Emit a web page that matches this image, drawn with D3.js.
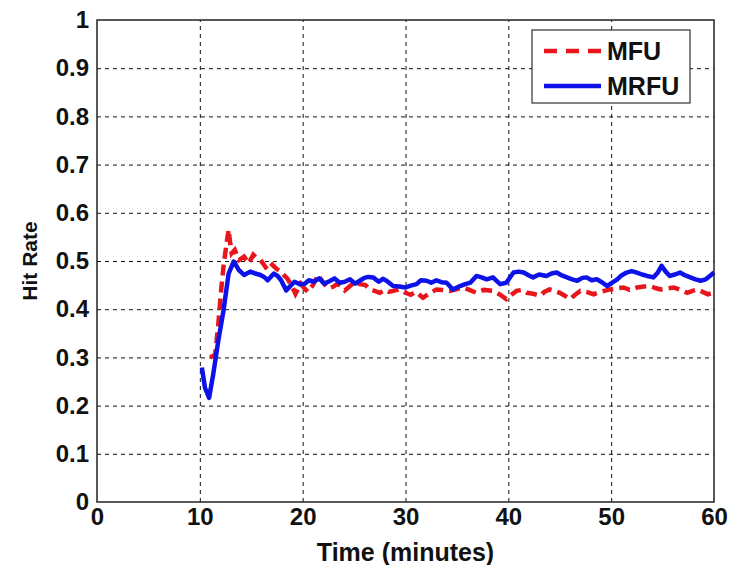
<!DOCTYPE html>
<html>
<head>
<meta charset="utf-8">
<script src="https://cdn.jsdelivr.net/npm/d3@7"></script>
<style>
  body { margin: 0; background: #fff; }
  svg { display: block; font-family: "Liberation Sans", Arial, sans-serif; font-weight: bold; }
</style>
</head>
<body>
<div id="chart"></div>
<script>
// tick values
const xTicks = [0, 10, 20, 30, 40, 50, 60];
const yTicks = [0, 0.1, 0.2, 0.3, 0.4, 0.5, 0.6, 0.7, 0.8, 0.9, 1];

// MFU series (red dashed)
const mfuTime = [11.0, 11.3, 11.5, 11.8, 12.1, 12.3, 12.6, 12.8, 12.95, 13.1, 13.4, 13.8, 14.3, 14.75, 15.2, 15.6, 15.9, 16.3, 16.6, 17.05,
  17.5, 17.9, 18.2, 18.5, 18.9, 19.3, 19.8, 20.1, 20.5, 21.0, 21.5, 22.0, 22.5, 23.0, 23.4, 23.8, 24.1, 24.6, 25.1, 25.55,
  26.1, 26.6, 27.0, 27.5, 28.0, 28.4, 28.8, 29.4, 30.0, 30.5, 31.0, 31.7, 32.3, 33.0, 33.6, 34.3, 35.0, 35.6, 36.2, 36.9,
  37.6, 38.5, 39.2, 39.8, 40.3, 40.8, 41.3, 41.8, 42.4, 43.1, 43.5, 44.0, 44.5, 45.0, 45.5, 46.0, 46.5, 47.0, 47.6, 48.3,
  49.0, 49.9, 50.5, 51.2, 51.8, 52.5, 53.2, 53.8, 54.3, 54.8, 55.5, 56.1, 56.8, 57.4, 57.9, 58.4, 58.9, 59.4, 60.0];
const mfuRate = [0.300, 0.303, 0.307, 0.370, 0.446, 0.488, 0.537, 0.565, 0.537, 0.516, 0.523, 0.502, 0.509, 0.495, 0.513, 0.505, 0.502, 0.490, 0.481, 0.492,
  0.483, 0.478, 0.470, 0.464, 0.450, 0.432, 0.453, 0.445, 0.436, 0.450, 0.471, 0.455, 0.443, 0.447, 0.453, 0.446, 0.439, 0.448, 0.457, 0.452,
  0.450, 0.440, 0.438, 0.434, 0.440, 0.436, 0.438, 0.441, 0.434, 0.430, 0.436, 0.424, 0.432, 0.441, 0.440, 0.438, 0.442, 0.445, 0.440, 0.434,
  0.440, 0.438, 0.430, 0.421, 0.430, 0.438, 0.440, 0.434, 0.432, 0.428, 0.436, 0.441, 0.438, 0.434, 0.428, 0.421, 0.430, 0.438, 0.436, 0.431,
  0.436, 0.441, 0.443, 0.445, 0.440, 0.445, 0.447, 0.448, 0.444, 0.441, 0.443, 0.445, 0.440, 0.434, 0.438, 0.441, 0.436, 0.431, 0.434];

// MRFU series (blue solid)
const mrfuTime = [10.2, 10.5, 10.9, 11.3, 11.8, 12.3, 12.8, 13.3, 13.8, 14.3, 14.9, 15.4, 15.9, 16.3, 16.6, 17.2, 17.6, 17.9, 18.4, 18.8,
  19.2, 19.7, 20.2, 20.6, 21.1, 21.6, 22.1, 22.6, 23.1, 23.6, 24.1, 24.6, 25.1, 25.55, 26.0, 26.4, 26.85, 27.4, 27.8, 28.15,
  28.8, 29.4, 30.0, 30.5, 31.07, 31.5, 32.05, 32.5, 33.0, 33.5, 34.0, 34.6, 35.3, 35.8, 36.3, 36.9, 37.4, 37.9, 38.5, 39.2,
  39.8, 40.5, 41.0, 41.5, 42.0, 42.4, 43.0, 43.7, 44.2, 44.7, 45.2, 45.7, 46.2, 46.7, 47.2, 47.6, 48.1, 48.6, 49.1, 49.6,
  50.1, 50.6, 51.0, 51.5, 52.0, 52.5, 53.0, 53.5, 54.1, 54.5, 54.9, 55.3, 55.7, 56.2, 56.7, 57.2, 57.7, 58.2, 58.7, 59.2,
  59.6, 60.0];
const mrfuRate = [0.279, 0.237, 0.216, 0.265, 0.335, 0.397, 0.474, 0.499, 0.481, 0.471, 0.478, 0.474, 0.471, 0.466, 0.460, 0.474, 0.468, 0.460, 0.439, 0.448,
  0.457, 0.452, 0.453, 0.460, 0.457, 0.464, 0.453, 0.458, 0.464, 0.455, 0.457, 0.462, 0.453, 0.459, 0.465, 0.467, 0.466, 0.457, 0.463, 0.459,
  0.448, 0.447, 0.445, 0.449, 0.452, 0.460, 0.459, 0.455, 0.460, 0.456, 0.455, 0.441, 0.448, 0.452, 0.455, 0.469, 0.466, 0.462, 0.466, 0.452,
  0.455, 0.476, 0.478, 0.476, 0.470, 0.466, 0.472, 0.469, 0.474, 0.476, 0.470, 0.466, 0.462, 0.459, 0.465, 0.466, 0.460, 0.462, 0.456, 0.448,
  0.455, 0.462, 0.470, 0.476, 0.479, 0.476, 0.472, 0.469, 0.466, 0.475, 0.490, 0.478, 0.469, 0.472, 0.476, 0.470, 0.466, 0.462, 0.459, 0.462,
  0.469, 0.476];

const seriesNames = ["MFU", "MRFU"];
const seriesColors = ["#e8161c", "#0c12e8"];

// layout
const width = 740, height = 565;
const plot = {left: 97, right: 714, top: 20, bottom: 502};

const svg = d3.select("#chart").append("svg")
  .attr("width", width)
  .attr("height", height);

const xScale = d3.scaleLinear().domain([0, 60]).range([plot.left, plot.right]);
const yScale = d3.scaleLinear().domain([0, 1]).range([plot.bottom, plot.top]);

// dotted grid
svg.append("g")
  .attr("transform", `translate(0,${plot.bottom})`)
  .call(d3.axisBottom(xScale).tickValues(xTicks.slice(1, -1)).tickSize(-(plot.bottom - plot.top)).tickFormat(""))
  .call(g => g.select(".domain").remove())
  .call(g => g.selectAll("line").attr("stroke", "#111").attr("stroke-dasharray", "4,4"));

svg.append("g")
  .attr("transform", `translate(${plot.left},0)`)
  .call(d3.axisLeft(yScale).tickValues(yTicks.slice(1, -1)).tickSize(-(plot.right - plot.left)).tickFormat(""))
  .call(g => g.select(".domain").remove())
  .call(g => g.selectAll("line").attr("stroke", "#111").attr("stroke-dasharray", "4,4"));

// data lines
const line = d3.line()
  .x(d => xScale(d[0]))
  .y(d => yScale(d[1]));

svg.append("path")
  .datum(d3.zip(mfuTime, mfuRate))
  .attr("fill", "none")
  .attr("stroke", seriesColors[0])
  .attr("stroke-width", 4.5)
  .attr("stroke-dasharray", "11,6")
  .attr("d", line);

svg.append("path")
  .datum(d3.zip(mrfuTime, mrfuRate))
  .attr("fill", "none")
  .attr("stroke", seriesColors[1])
  .attr("stroke-width", 4.5)
  .attr("stroke-linejoin", "round")
  .attr("d", line);

// box around plot
svg.append("rect")
  .attr("x", plot.left)
  .attr("y", plot.top)
  .attr("width", plot.right - plot.left)
  .attr("height", plot.bottom - plot.top)
  .attr("fill", "none")
  .attr("stroke", "#222")
  .attr("stroke-width", 1.5);

// tick labels
svg.append("g")
  .attr("transform", `translate(0,${plot.bottom})`)
  .call(d3.axisBottom(xScale).tickValues(xTicks).tickSize(0).tickPadding(6).tickFormat(d3.format("d")))
  .call(g => g.select(".domain").remove())
  .call(g => g.selectAll("text")
    .attr("font-family", "Liberation Sans, Arial, sans-serif")
    .attr("font-weight", "bold")
    .attr("font-size", 24)
    .attr("fill", "#111"));

svg.append("g")
  .attr("transform", `translate(${plot.left},0)`)
  .call(d3.axisLeft(yScale).tickValues(yTicks).tickSize(0).tickPadding(8).tickFormat(d => d === 0 || d === 1 ? d3.format("d")(d) : d3.format(".1f")(d)))
  .call(g => g.select(".domain").remove())
  .call(g => g.selectAll("text")
    .attr("font-family", "Liberation Sans, Arial, sans-serif")
    .attr("font-weight", "bold")
    .attr("font-size", 24)
    .attr("fill", "#111"));

// axis titles
svg.append("text")
  .attr("x", (plot.left + plot.right) / 2)
  .attr("y", 561)
  .attr("text-anchor", "middle")
  .attr("font-size", 25)
  .attr("fill", "#111")
  .text("Time (minutes)");

svg.append("text")
  .attr("transform", `translate(37,${(plot.top + plot.bottom) / 2}) rotate(-90)`)
  .attr("text-anchor", "middle")
  .attr("font-size", 21)
  .attr("fill", "#111")
  .text("Hit Rate");

// legend
const legend = svg.append("g");
legend.append("rect")
  .attr("x", 532)
  .attr("y", 30)
  .attr("width", 158)
  .attr("height", 73)
  .attr("fill", "#fff")
  .attr("stroke", "#333")
  .attr("stroke-width", 1.2);

const legendRows = [51, 86];
seriesNames.forEach((name, i) => {
  legend.append("line")
    .attr("x1", 544)
    .attr("x2", 601)
    .attr("y1", legendRows[i])
    .attr("y2", legendRows[i])
    .attr("stroke", seriesColors[i])
    .attr("stroke-width", 4.5)
    .attr("stroke-dasharray", i === 0 ? "13,9" : null);
  legend.append("text")
    .attr("x", 607)
    .attr("y", legendRows[i] + 9)
    .attr("font-size", 25)
    .attr("fill", "#111")
    .text(name);
});
</script>
</body>
</html>
